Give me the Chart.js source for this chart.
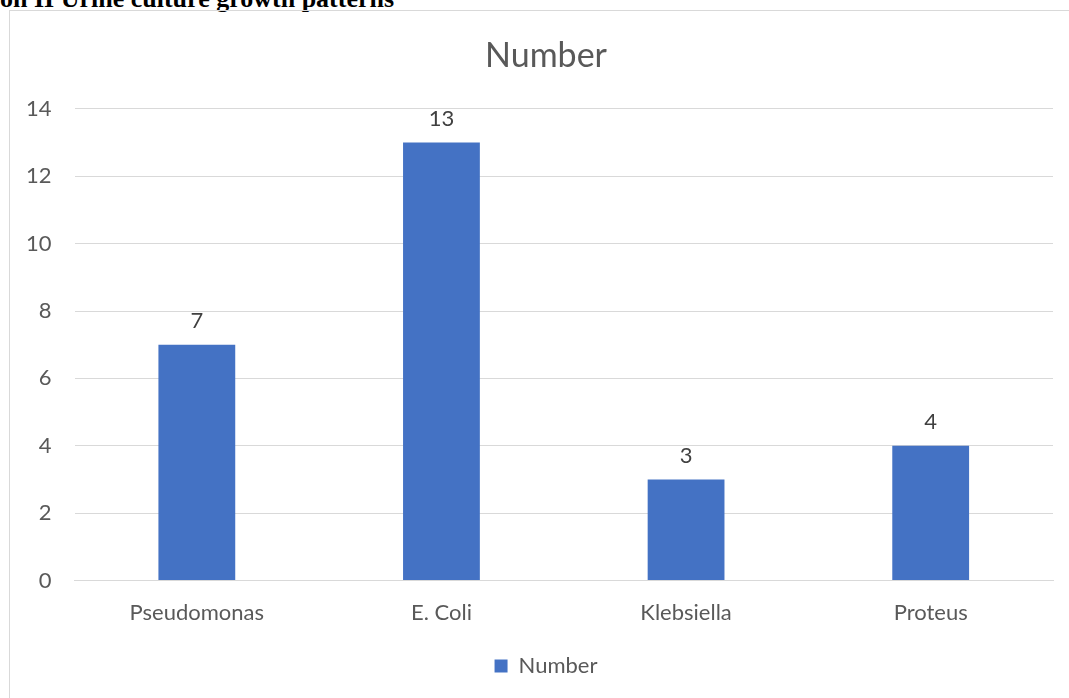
<!DOCTYPE html>
<html>
<head>
<meta charset="utf-8">
<script src="https://cdn.jsdelivr.net/npm/chart.js@4.4.0/dist/chart.umd.min.js"></script>
<style>
  html, body { margin: 0; padding: 0; background: #fff; overflow: hidden; }
  #head {
    position: absolute; left: 0; top: -16px; margin: 0;
    font: bold 26px "Liberation Serif", "Times New Roman", serif; color: #000;
    white-space: nowrap;
  }
  #frame {
    position: absolute; left: 9px; top: 10px; width: 1100px; height: 720px;
    border: 1.5px solid #d9d9d9; box-sizing: border-box;
  }
  #wrap { position: absolute; left: 0; top: 0; width: 1089px; height: 698px; }
</style>
</head>
<body>
<div id="head">on II Urine culture growth patterns</div>
<div id="frame"></div>
<div id="wrap"><canvas id="chart"></canvas></div>
<script>
const categories = ["Pseudomonas", "E. Coli", "Klebsiella", "Proteus"];
const counts = [7, 13, 3, 4];
const seriesName = "Number";

const textGray = "#595959";
const font = "Lato, 'Open Sans', sans-serif";

// value labels above the bars
const barLabels = {
  id: "barLabels",
  afterDatasetsDraw(chart) {
    const ctx = chart.ctx;
    const meta = chart.getDatasetMeta(0);
    ctx.save();
    ctx.font = "22px " + font;
    ctx.fillStyle = "#404040";
    ctx.textAlign = "center";
    ctx.textBaseline = "middle";
    meta.data.forEach((bar, i) => {
      ctx.fillText(counts[i], bar.x, bar.y - 24);
    });
    ctx.restore();
  }
};

new Chart(document.getElementById("chart"), {
  type: "bar",
  data: {
    labels: categories,
    datasets: [{
      label: seriesName,
      data: counts,
      backgroundColor: "#4472C4",
      barPercentage: 0.314,
      categoryPercentage: 1,
    }],
  },
  options: {
    responsive: true,
    maintainAspectRatio: false,
    animation: false,
    layout: { padding: { top: 36, left: 3, right: 0, bottom: 11 } },
    scales: {
      x: {
        grid: { display: false, drawTicks: false },
        border: { color: "#d9d9d9", width: 1 },
        ticks: { color: textGray, font: { family: font, size: 22 }, padding: 19 },
      },
      y: {
        min: 0, max: 14,
        grid: { color: "#d9d9d9", drawTicks: false },
        border: { display: false },
        ticks: { stepSize: 2, color: textGray, font: { family: font, size: 22 }, padding: 23 },
      },
      // empty spacer on the right so title and legend sit where the original has them
      spacer: {
        position: "right",
        grid: { display: false, drawTicks: false },
        border: { display: false },
        ticks: { display: false },
        afterFit(scale) { scale.width = 36; },
      },
    },
    plugins: {
      title: {
        display: true,
        text: "Number",
        color: textGray,
        font: { family: font, size: 34, weight: "normal" },
        padding: { top: 0, bottom: 32 },
      },
      legend: {
        position: "bottom",
        labels: {
          color: textGray,
          font: { family: font, size: 22 },
          boxWidth: 13, boxHeight: 13, padding: 10,
        },
      },
      tooltip: { enabled: false },
    },
  },
  plugins: [barLabels],
});
</script>
</body>
</html>
